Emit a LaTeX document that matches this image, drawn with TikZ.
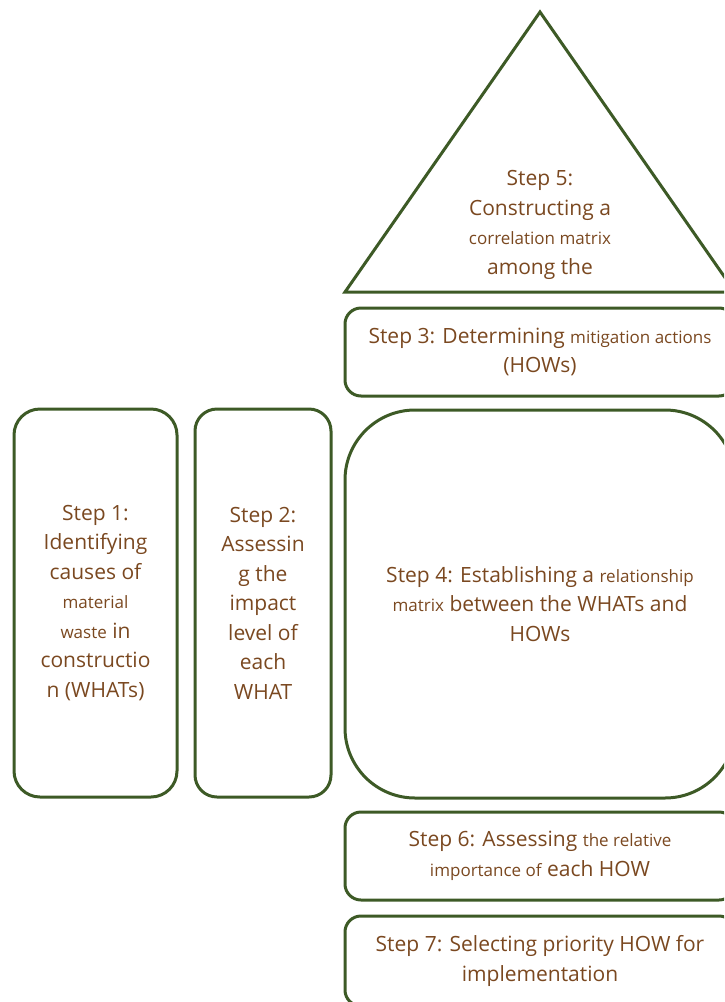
\documentclass[tikz,border=0pt]{standalone}
\usepackage{fontspec}
\setmainfont{Open Sans}
\usepackage{tikz}
\usetikzlibrary{positioning}
\usepackage{xcolor}
\definecolor{framegreen}{RGB}{61,90,38}
\definecolor{textbrown}{RGB}{122,72,32}

\newcommand{\sm}[1]{{\fontsize{17}{29.5}\selectfont #1}}

\begin{document}
\begin{tikzpicture}[x=1pt,y=-1pt,
    stepbox/.style={draw=framegreen,line width=3pt,rounded corners=16pt,
      align=center,text=textbrown,font=\fontsize{21}{29.5}\selectfont,inner sep=0pt},
    steptext/.style={align=center,text=textbrown,font=\fontsize{21}{29.5}\selectfont,inner sep=0pt}]
    \useasboundingbox (0,0) rectangle (724,1002);
    \clip (0,0) rectangle (724,1002);
    % roof: correlation matrix
    \draw[framegreen,line width=3pt,line join=miter] (540,12) -- (345,292) -- (735,292) -- cycle;
    \node[steptext] (s5) at (540,225) {Step 5:\\ Constructing a\\ \sm{correlation matrix}\\ among the};
    % HOWs
    \node[stepbox,minimum width=390pt,minimum height=88pt] (s3) at (540,352)
        {Step 3: Determining \sm{mitigation actions}\\ (HOWs)};
    % WHATs and impact level
    \node[stepbox,rounded corners=26pt,minimum width=163pt,minimum height=388pt] (s1) at (95.5,603)
        {Step 1:\\ Identifying\\ causes of\\ \sm{material}\\ \sm{waste} in\\ constructio\\ n (WHATs)};
    \node[stepbox,rounded corners=22pt,minimum width=136pt,minimum height=388pt] (s2) at (263,603)
        {Step 2:\\ Assessin\\ g the\\ impact\\ level of\\ each\\ WHAT};
    % relationship matrix
    \node[stepbox,rounded corners=70pt,minimum width=390pt,minimum height=388pt] (s4) at (540,604)
        {Step 4: Establishing a \sm{relationship}\\ \sm{matrix} between the WHATs and\\ HOWs};
    % basement
    \node[stepbox,minimum width=390pt,minimum height=88pt] (s6) at (540,856)
        {Step 6: Assessing \sm{the relative}\\ \sm{importance of} each HOW};
    \node[stepbox,minimum width=390pt,minimum height=90pt] (s7) at (540,961)
        {Step 7: Selecting priority HOW for\\ implementation};
\end{tikzpicture}
\end{document}
